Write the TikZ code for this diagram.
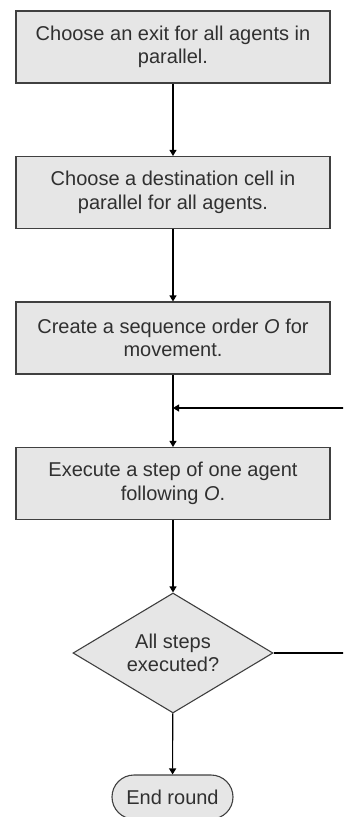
\documentclass[tikz,border=0pt]{standalone}
\usepackage{fontspec}
\setmainfont{Liberation Sans}
\usetikzlibrary{shapes.geometric,shapes.misc,arrows.meta}
\definecolor{boxfill}{HTML}{E6E6E6}
\definecolor{boxline}{HTML}{404040}
\definecolor{txt}{HTML}{303030}
\begin{document}
\begin{tikzpicture}[x=1pt,y=-1pt,
  every node/.style={font=\fontsize{20}{23.5}\selectfont, text=txt},
  procbox/.style={draw=boxline, fill=boxfill, line width=1.1pt, minimum width=314pt, minimum height=72pt, align=center, inner sep=0pt},
  decbox/.style={diamond, draw=boxline, fill=boxfill, line width=1.1pt, minimum width=200pt, minimum height=120pt, aspect=1.667, align=center, inner sep=0pt},
  termbox/.style={rounded rectangle, draw=boxline, fill=boxfill, line width=1.1pt, minimum width=121pt, minimum height=44pt, inner sep=0pt},
  flow/.style={draw=black, line width=1.1pt, -{Triangle[length=6pt,width=7pt]}},
  plain/.style={draw=black, line width=1.1pt}]
\useasboundingbox (0,0) rectangle (343,817);
\clip (0,0) rectangle (343,817);
\node[procbox] (b1) at (173,47) {Choose an exit for all agents in\\parallel.};
\node[procbox] (b2) at (173,192.5) {Choose a destination cell in\\parallel for all agents.};
\node[procbox] (b3) at (173,338) {Create a sequence order \textit{O} for\\movement.};
\node[procbox] (b4) at (173,483.5) {Execute a step of one agent\\following \textit{O}.};
\node[decbox] (d) at (173,653) {All steps\\executed?};
\node[termbox] (e) at (172.5,797) {End round};
\coordinate (j) at (173,408);
\coordinate (r1) at (352,653);
\coordinate (r2) at (352,408);
\draw[flow] (b1) -- (b2);
\draw[flow] (b2) -- (b3);
\draw[flow] (b3) -- (b4);
\draw[flow] (b4) -- (d);
\draw[flow] (d) -- (e);
\draw[plain] (d.east) -- (r1) -- (r2);
\draw[flow] (r2) -- (j);
\end{tikzpicture}
\end{document}
